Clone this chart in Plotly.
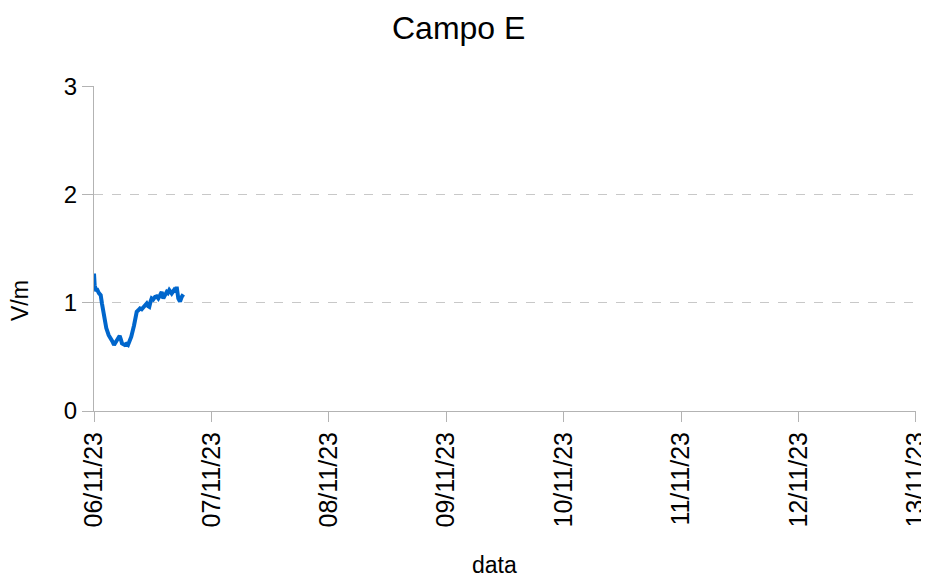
import plotly.graph_objects as go
from datetime import datetime, timedelta

start = datetime(2023, 11, 6, 0, 0)
hours = [0.00, 0.14, 0.40, 0.67, 1.00, 1.37, 1.64, 2.04, 2.30, 2.51, 3.00, 3.30,
         3.54, 3.80, 4.09, 4.56, 4.90, 5.25, 5.50, 5.72, 6.28, 6.60, 6.95, 7.30,
         7.62, 8.18, 8.50, 8.73, 9.05, 9.40, 9.75, 10.08, 10.40, 10.77, 11.05,
         11.30, 11.55, 11.79, 12.10, 12.47, 12.80, 13.14, 13.50, 13.84, 14.17,
         14.50, 14.86, 15.10, 15.39, 15.88, 16.10, 16.35, 16.65, 16.90, 17.23,
         17.58, 17.93, 18.25]
values = [1.27, 1.16, 1.12, 1.12, 1.09, 1.07, 0.99, 0.886, 0.82, 0.766, 0.70, 0.68,
          0.655, 0.64, 0.61, 0.64, 0.66, 0.695, 0.66, 0.625, 0.61, 0.62, 0.61, 0.64,
          0.686, 0.79, 0.88, 0.917, 0.93, 0.948, 0.94, 0.963, 0.98, 0.994, 0.97,
          0.963, 1.01, 1.04, 1.03, 1.055, 1.06, 1.04, 1.07, 1.10, 1.04,
          1.07, 1.10, 1.09, 1.117, 1.086, 1.10, 1.117, 1.10, 1.147, 1.04,
          1.01, 1.055, 1.077]
times = [start + timedelta(hours=h) for h in hours]

x_range = ["2023-11-06 00:00:00", "2023-11-13 00:01:00"]
y_ticks = [0, 1, 2, 3]

# page body has an 8px margin: the figure starts at (8,8) in the window,
# so it is made as large as the window and margins are set in window pixels minus 8
OFF = 8
W, H = 929, 577
L, T = 94 - OFF, 86 - OFF
R, B = W - (916 - OFF), H - (411 - OFF)
pw, ph = W - L - R, H - T - B

fig = go.Figure()
fig.add_trace(go.Scatter(x=times, y=values, mode="lines",
                         line=dict(color="#0066cc", width=4)))

font = "Liberation Sans, Arial, sans-serif"
fig.update_layout(
    width=W, height=H,
    paper_bgcolor="white", plot_bgcolor="white",
    margin=dict(l=L, r=R, t=T, b=B, autoexpand=False),
    title=dict(text="Campo E", x=(458.7 - OFF) / W, xanchor="center",
               y=1 - (28 - OFF) / H, yanchor="middle",
               font=dict(family=font, size=32, color="black")),
    showlegend=False,
    font=dict(family=font, color="black"),
)
fig.add_annotation(text="data", xref="paper", yref="paper", x=(494 - 94) / pw,
                   y=-(565 - 411) / ph, showarrow=False,
                   font=dict(size=23, color="black"), xanchor="center", yanchor="middle")
fig.add_annotation(text="V/m", xref="paper", yref="paper", x=-(94 - 20) / pw,
                   y=(411 - 301) / ph, showarrow=False, textangle=-90,
                   font=dict(size=23, color="black"), xanchor="center", yanchor="middle")

fig.update_xaxes(
    type="date", range=x_range, tick0="2023-11-06", dtick=86400000,
    tickformat="%d/%m/%y", ticklabeloverflow="allow",
    tickangle=-90, tickfont=dict(size=25, color="black"),
    showgrid=False, showline=True, linecolor="#b3b3b3", linewidth=1,
    ticks="outside", ticklen=10, tickcolor="#b3b3b3",
    zeroline=False, automargin=False,
)
fig.update_yaxes(
    range=[0, 3.003], tickvals=y_ticks, tickfont=dict(size=24, color="black"),
    showgrid=True, gridcolor="#c8c8c8", griddash="dash", gridwidth=1,
    showline=True, linecolor="#b3b3b3", linewidth=1,
    ticks="outside", ticklen=11, tickcolor="#b3b3b3",
    zeroline=False, automargin=False,
)
fig.write_html("out.html")
